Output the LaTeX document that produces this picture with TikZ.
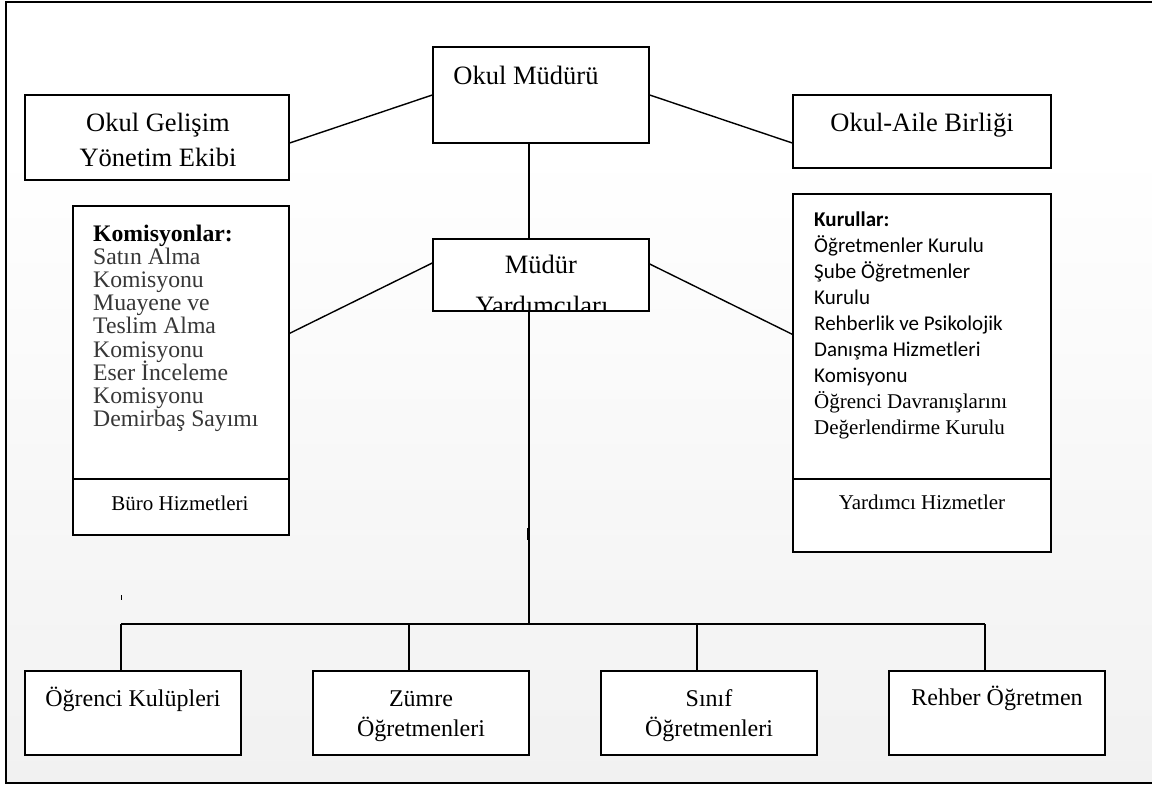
\documentclass[tikz,border=0pt]{standalone}
\usepackage{fontspec}
\setmainfont{Liberation Serif}
\newfontfamily\calfont{Carlito}
\definecolor{bgbottom}{RGB}{241,241,241}
\definecolor{itemgray}{RGB}{55,55,55}
\begin{document}
\begin{tikzpicture}[x=1pt,y=-1pt,
  box/.style={draw=black,fill=white,line width=1.4pt,inner sep=0pt,rectangle},
  conn/.style={draw=black,line width=1.4pt},
  txt/.style={anchor=base west,inner sep=0pt},
  ctxt/.style={anchor=base,inner sep=0pt},
  big/.style={font=\fontsize{26.5}{34}\selectfont},
  mid/.style={font=\fontsize{23.7}{26}\selectfont},
  bot/.style={font=\fontsize{24}{30}\selectfont},
  sml/.style={font=\fontsize{21}{24}\selectfont}]
\useasboundingbox (0,0) rectangle (1152,785);
\fill[white] (0,0) rectangle (1152,785);
\shade[top color=white,bottom color=bgbottom] (6,150) rectangle (1160,783);
\draw[line width=2pt] (1160,2) -- (6,2) -- (6,783) -- (1160,783);

% boxes
\node[box,minimum width=216pt,minimum height=96pt] (om) at (541,95) {};
\node[box,minimum width=264pt,minimum height=85pt] (og) at (157,137.5) {};
\node[box,minimum width=258pt,minimum height=73pt] (oa) at (922,131.5) {};
\node[box,minimum width=216pt,minimum height=72pt] (my) at (541,275) {};
\node[box,minimum width=216pt,minimum height=329pt] (kom) at (181,370.5) {};
\node[box,minimum width=258pt,minimum height=358pt] (kur) at (922,373) {};
\node[box,minimum width=216pt,minimum height=84pt] (b1) at (133,713) {};
\node[box,minimum width=216pt,minimum height=84pt] (b2) at (421,713) {};
\node[box,minimum width=216pt,minimum height=84pt] (b3) at (709,713) {};
\node[box,minimum width=216pt,minimum height=84pt] (b4) at (997,713) {};

% dividers
\draw[conn] (kom.west |- 0,479) coordinate (kd1) -- (kom.east |- 0,479) coordinate (kd2);
\draw[conn] (kur.west |- 0,479) coordinate (kd3) -- (kur.east |- 0,479) coordinate (kd4);

% connectors
\draw[conn] (om.west) -- ([yshift=-5.5pt]og.east);
\draw[conn] (om.east) -- ([yshift=-11.5pt]oa.west);
\draw[conn] ([xshift=-12pt]om.south) -- ([xshift=-12pt]my.north);
\draw[conn] ([yshift=12pt]my.west) -- ([yshift=-128pt]kom.north east);
\draw[conn] ([yshift=11pt]my.east) -- ([yshift=-141pt]kur.north west);
\coordinate (hub) at (529,624);
\coordinate (hl) at (121,624);
\coordinate (hr) at (985,624);
\draw[conn] ([xshift=-12pt]my.south) -- (hub);
\draw[conn] (hl) -- (hr);
\draw[conn] (hl) -- ([xshift=-12pt]b1.north);
\draw[conn] (409,624) coordinate (h2) -- ([xshift=-12pt]b2.north);
\draw[conn] (697,624) coordinate (h3) -- ([xshift=-12pt]b3.north);
\draw[conn] (hr) -- ([xshift=-12pt]b4.north);
% small marks
\draw[line width=2.4pt] (528.5,528) coordinate (m1) -- (528.5,540) coordinate (m2);
\draw[line width=0.9pt] (121,595) coordinate (m3) -- (121,600) coordinate (m4);

% texts
\node[ctxt,big] (tom) at (526,84) {Okul Müdürü};
\node[ctxt,big] (tog1) at (158,131) {Okul Gelişim};
\node[ctxt,big] (tog2) at (158,166) {Yönetim Ekibi};
\node[ctxt,big] (toa) at (922,131) {Okul-Aile Birliği};
\begin{scope}
\clip (434,240) rectangle (648,310);
\node[ctxt,big] (tmy1) at (541,273) {Müdür};
\node[ctxt,big] (tmy2) at (542,314) {Yardımcıları};
\end{scope}

\node[txt,mid] (k0) at (93,241) {\textbf{Komisyonlar:}};
\foreach [count=\i] \t in {Satın Alma,Komisyonu,Muayene ve,Teslim Alma,Komisyonu,Eser İnceleme,Komisyonu,Demirbaş Sayımı}
  \node[txt,mid,text=itemgray] (k\i) at (93,{241+23.2*\i}) {\t};
\node[ctxt,sml] (bh) at (180,510) {Büro Hizmetleri};

\node[txt,font=\calfont\bfseries\fontsize{21}{24}\selectfont] (r0) at (814,226) {Kurullar:};
\foreach [count=\i] \t in {Öğretmenler Kurulu,Şube Öğretmenler,Kurulu,Rehberlik ve Psikolojik,Danışma Hizmetleri,Komisyonu}
  \node[txt,font=\calfont\fontsize{21}{24}\selectfont] (r\i) at (814,{226+26*\i}) {\t};
\node[txt,sml] (r7) at (814,408) {Öğrenci Davranışlarını};
\node[txt,sml] (r8) at (814,434) {Değerlendirme Kurulu};
\node[ctxt,sml] (yh) at (922,509) {Yardımcı Hizmetler};

\node[ctxt,bot] (t1) at (133,706) {Öğrenci Kulüpleri};
\node[ctxt,bot] (t2a) at (421,706) {Zümre};
\node[ctxt,bot] (t2b) at (421,736) {Öğretmenleri};
\node[ctxt,bot] (t3a) at (709,706) {Sınıf};
\node[ctxt,bot] (t3b) at (709,736) {Öğretmenleri};
\node[ctxt,bot] (t4) at (997,705) {Rehber Öğretmen};
\end{tikzpicture}
\end{document}
